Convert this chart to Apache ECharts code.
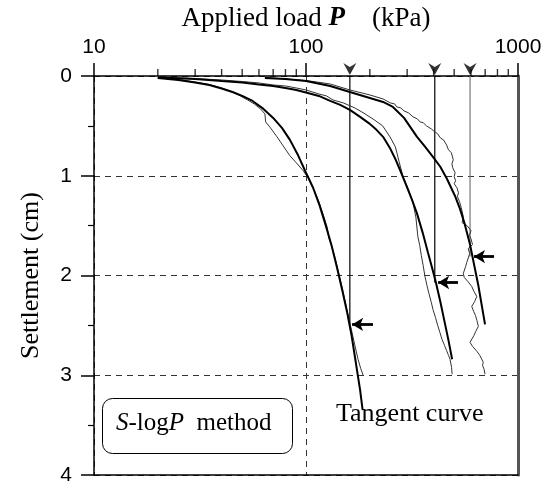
<!DOCTYPE html>
<html>
<head>
<meta charset="utf-8">
<script src="https://cdn.jsdelivr.net/npm/echarts@6.0.0/dist/echarts.min.js"></script>
<style>
  html, body { margin: 0; padding: 0; background: #fff; }
  #chart { width: 554px; height: 483px; }
</style>
</head>
<body>
<div id="chart"></div>
<script>
// Load ticks (minor) on the top axis
const minorLoadTicks = [20, 30, 40, 50, 60, 70, 80, 90, 200, 300, 400, 500, 600, 700, 800, 900];

const yieldLoads = [161, 405, 594];
const yieldSettle = [2.49, 2.07, 1.81];
const arrowTip = [165, 420, 620];
const arrowTail = [207, 521, 771];

// Test 1
const fit1 = [[20,0.02],[25,0.04],[30,0.065],[35,0.09],[40,0.125],[45,0.16],[50,0.2],[56,0.25],[63,0.33],
  [70,0.42],[77,0.52],[84,0.64],[92,0.8],[100,0.97],[108,1.12],[116,1.3],[124,1.5],[132,1.7],[140,1.92],
  [148,2.14],[156,2.36],[164,2.6],[172,2.88],[180,3.15],[185,3.35]];
const meas1 = [[20,0.02],[25,0.035],[30,0.06],[35,0.085],[40,0.12],[45,0.16],[49,0.2],[53,0.24],[57,0.28],
  [61,0.33],[64,0.38],[64.5,0.46],[68,0.52],[73,0.61],[78,0.7],[84,0.8],[90,0.87],[97,0.95],[103,1.03],
  [109,1.14],[115,1.26],[121,1.4],[126,1.52],[128,1.62],[132,1.7],[137,1.82],[142,1.96],[148,2.12],
  [153,2.26],[158,2.4],[164,2.55],[170,2.7],[176,2.84],[181,2.93],[186,3.0]];

// Test 2
const fit2 = [[20,0.015],[30,0.03],[40,0.05],[50,0.065],[60,0.085],[70,0.1],[80,0.12],[90,0.14],[100,0.165],
  [115,0.2],[130,0.25],[145,0.29],[161,0.34],[180,0.41],[200,0.48],[215,0.54],[231,0.61],[250,0.73],
  [265,0.84],[280,0.96],[295,1.08],[316,1.24],[334,1.38],[355,1.57],[376,1.77],[393,1.92],[410,2.07],
  [430,2.26],[450,2.46],[470,2.65],[489,2.84]];
const meas2 = [[20,0.01],[30,0.025],[40,0.04],[50,0.055],[60,0.07],[70,0.09],[80,0.1],[90,0.12],[100,0.14],
  [115,0.18],[125,0.2],[134,0.24],[150,0.27],[170,0.32],[190,0.38],[210,0.44],[230,0.5],[249,0.61],
  [264,0.71],[275,0.86],[287,1.01],[303,1.13],[320,1.27],[330,1.42],[337,1.61],[344,1.7],[350,1.8],
  [357,1.9],[364,2.01],[372,2.1],[380,2.18],[390,2.27],[397,2.34],[408,2.42],[418,2.5],[428,2.57],
  [438,2.64],[450,2.7],[460,2.75],[470,2.8],[478,2.84],[486,2.92],[489,2.99]];

// Test 3
const fit3 = [[64,0.02],[80,0.03],[100,0.05],[130,0.1],[161,0.16],[200,0.22],[231,0.26],[257,0.31],
  [290,0.42],[334,0.61],[365,0.71],[397,0.81],[430,0.91],[462,1.03],[504,1.2],[532,1.33],[560,1.48],
  [594,1.69],[607,1.79],[650,2.1],[699,2.49]];
const meas3 = [[64,0.015],[80,0.03],[100,0.045],[130,0.08],[161,0.14],[200,0.19],[231,0.23],[250,0.27],
  [262,0.28],[268,0.31],[280,0.32],[290,0.35],[305,0.37],[320,0.41],[335,0.43],[345,0.46],[358,0.47],
  [370,0.5],[390,0.53],[405,0.56],[418,0.58],[430,0.62],[445,0.64],[460,0.69],[468,0.7],[470,0.74],
  [485,0.77],[495,0.84],[488,0.88],[492,0.92],[505,0.97],[500,1.01],[508,1.05],[500,1.08],[515,1.12],
  [524,1.17],[518,1.21],[530,1.26],[540,1.32],[552,1.41],[545,1.47],[575,1.5],[600,1.55],[590,1.6],
  [600,1.63],[610,1.69],[582,1.73],[592,1.78],[573,1.87],[566,1.91],[552,1.98],[558,2.02],[580,2.06],
  [605,2.11],[620,2.16],[639,2.21],[625,2.26],[605,2.31],[618,2.36],[630,2.4],[640,2.45],[650,2.51],
  [632,2.56],[620,2.6],[594,2.67],[610,2.71],[640,2.76],[660,2.8],[686,2.87],[680,2.9],[692,2.94],[699,2.99]];

const serif = '"Liberation Serif", "DejaVu Serif", serif';
const sans = '"Liberation Sans", Arial, sans-serif';

const chart = echarts.init(document.getElementById('chart'), null, { renderer: 'canvas' });

function curve(data, width, color) {
    return {
        type: 'line', data: data, showSymbol: false, smooth: false, silent: true,
        lineStyle: { color: color, width: width }, z: 3
    };
}

const series = [
    curve(meas1, 1, '#333'), curve(fit1, 2, '#000'),
    curve(meas2, 1, '#333'), curve(fit2, 2, '#000'),
    curve(meas3, 1, '#333'), curve(fit3, 2, '#000')
];

// vertical lines from the arrowheads down to the tangent points
yieldLoads.forEach((p, i) => {
    series.push({
        type: 'line', data: [[p, 0], [p, yieldSettle[i]]], showSymbol: false, silent: true,
        lineStyle: { color: i === 2 ? '#777' : '#000', width: 1.2 }, z: 2
    });
});

// minor ticks on the load axis
series.push({
    type: 'scatter', data: minorLoadTicks.map(p => [p, 0]), clip: false, silent: true,
    symbol: 'rect', symbolSize: [1.4, 7], symbolOffset: [0, -3.5],
    itemStyle: { color: '#000' }, z: 5
});

// arrowheads over the yield loads
series.push({
    type: 'scatter', data: yieldLoads.map(p => [p, 0]), clip: false, silent: true,
    symbol: 'path://M0,0 L6,4 L12,0 L6,12 Z', symbolSize: [13, 12], symbolOffset: [0, -7],
    itemStyle: { color: '#000' }, z: 5
});

// left pointing arrows at the tangent points
series.push({
    type: 'line', data: [], silent: true,
    markLine: {
        silent: true, animation: false,
        symbol: ['arrow', 'none'], symbolSize: [10, 11],
        label: { show: false },
        lineStyle: { color: '#000', width: 2.8, type: 'solid' },
        data: yieldLoads.map((p, i) => [
            { coord: [arrowTip[i], yieldSettle[i]] },
            { coord: [arrowTail[i], yieldSettle[i]] }
        ])
    }
});

const option = {
    animation: false,
    backgroundColor: '#fff',
    grid: { left: 94, right: 36, top: 76, bottom: 8, outerBoundsMode: 'none', containLabel: false },
    xAxis: [{
        type: 'log', logBase: 10, min: 10, max: 1000, position: 'top',
        name: '{t|Applied load }{p|P}{t|    (kPa)}',
        nameLocation: 'middle', nameGap: 44,
        nameTextStyle: { rich: {
            t: { fontFamily: serif, fontSize: 27, color: '#000' },
            p: { fontFamily: serif, fontSize: 27, fontWeight: 'bold', fontStyle: 'italic', color: '#000' }
        } },
        axisLine: { show: true, lineStyle: { color: '#000', width: 1.5 } },
        axisTick: { show: true, inside: false, length: 13, lineStyle: { color: '#000', width: 1.5 } },
        minorTick: { show: false },
        axisLabel: { fontFamily: sans, fontSize: 21, color: '#000', margin: 18, formatter: v => String(v) },
        splitLine: { show: true, lineStyle: { color: '#333', width: 1, type: [6, 5] } }
    }, {
        type: 'log', logBase: 10, min: 10, max: 1000, position: 'bottom',
        axisLine: { show: true, onZero: false, lineStyle: { color: '#000', width: 1.5 } },
        axisTick: { show: false }, axisLabel: { show: false }, splitLine: { show: false }
    }],
    yAxis: [{
        type: 'value', inverse: true, min: 0, max: 4, interval: 1,
        name: 'Settlement (cm)', nameLocation: 'middle', nameGap: 50, nameRotate: 90,
        nameTextStyle: { fontFamily: serif, fontSize: 26, color: '#000' },
        axisLine: { show: true, lineStyle: { color: '#000', width: 1.5 } },
        axisTick: { show: true, length: 13, lineStyle: { color: '#000', width: 1.5 } },
        minorTick: { show: true, splitNumber: 2, length: 6, lineStyle: { color: '#000', width: 1.2 } },
        axisLabel: { fontFamily: sans, fontSize: 21, color: '#000', margin: 22 },
        splitLine: { show: true, lineStyle: { color: '#333', width: 1, type: [6, 5] } }
    }, {
        type: 'value', inverse: true, min: 0, max: 4, position: 'right',
        axisLine: { show: true, lineStyle: { color: '#555', width: 3 } },
        axisTick: { show: false }, axisLabel: { show: false }, splitLine: { show: false }
    }],
    graphic: [{
        type: 'rect', left: 102, top: 398,
        shape: { width: 190, height: 55, r: 10 },
        style: { fill: '#fff', stroke: '#000', lineWidth: 1 }, z: 10
    }, {
        type: 'text', left: 116, top: 411,
        style: {
            text: '{i|S}{n|-log}{i|P}{n|  method}',
            rich: {
                i: { fontFamily: serif, fontSize: 25, fontStyle: 'italic', fill: '#000' },
                n: { fontFamily: serif, fontSize: 25, fill: '#000' }
            }
        }, z: 11
    }, {
        type: 'text', left: 336, top: 401,
        style: { text: 'Tangent curve', fontFamily: serif, fontSize: 26, fill: '#000' }, z: 11
    }],
    series: series
};

chart.setOption(option);
</script>
</body>
</html>
